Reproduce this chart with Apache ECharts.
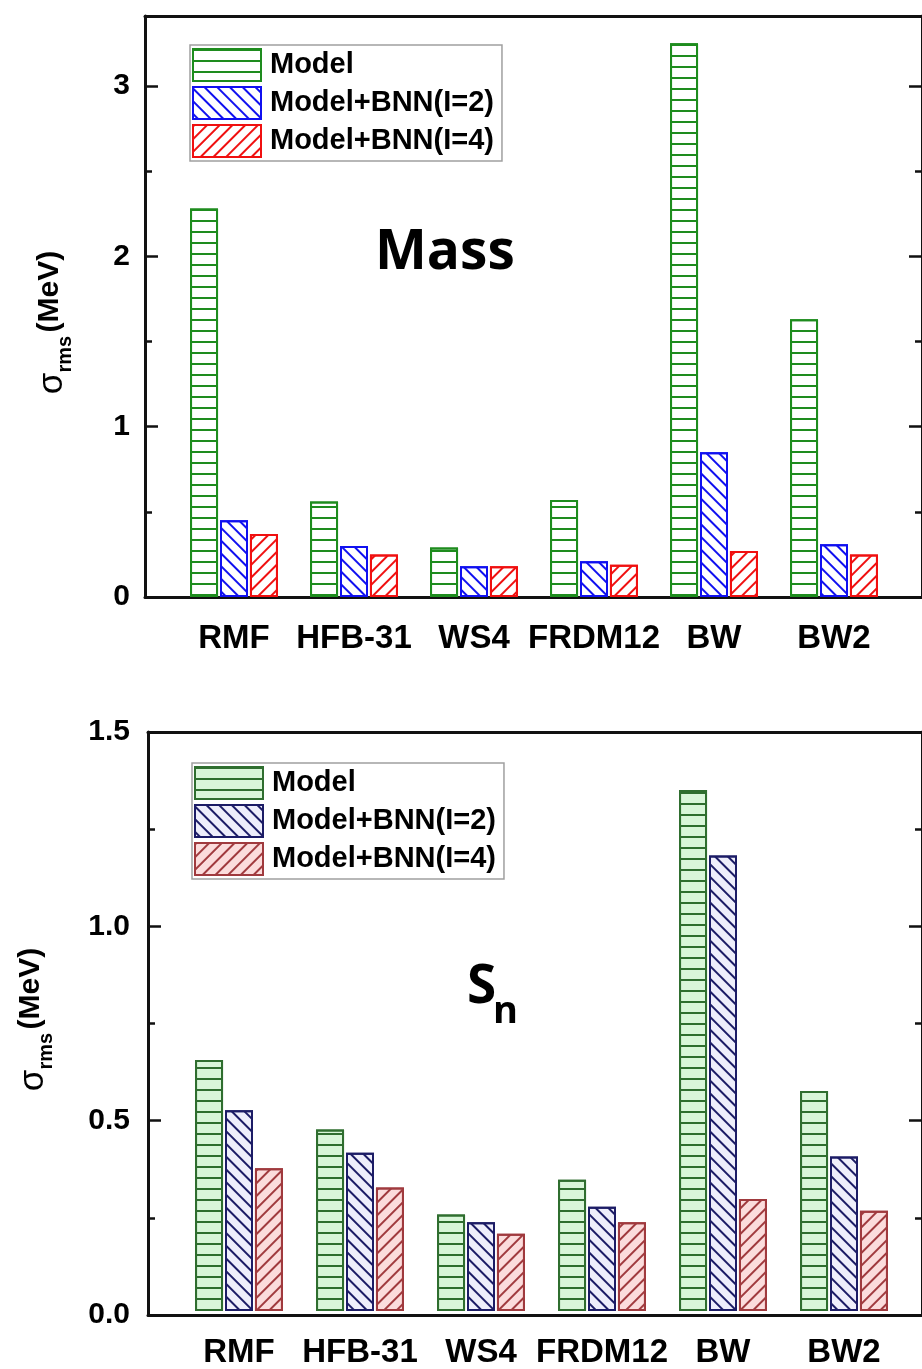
<!DOCTYPE html>
<html>
<head>
<meta charset="utf-8">
<script src="https://cdn.jsdelivr.net/npm/echarts@6/dist/echarts.min.js"></script>
<style>
html,body{margin:0;padding:0;background:#fff;}
#c{width:922px;height:1369px;}
</style>
</head>
<body>
<div id="c"></div>
<script>
// ---------- data ----------
const categories = ['RMF', 'HFB-31', 'WS4', 'FRDM12', 'BW', 'BW2'];
const seriesNames = ['Model', 'Model+BNN(I=2)', 'Model+BNN(I=4)'];
// Mass panel (MeV)
const massModel = [2.28, 0.56, 0.29, 0.57, 3.25, 1.63];
const massBNN2  = [0.45, 0.30, 0.18, 0.21, 0.85, 0.31];
const massBNN4  = [0.37, 0.25, 0.18, 0.19, 0.27, 0.25];
// Sn panel (MeV)
const snModel = [0.65, 0.47, 0.25, 0.34, 1.35, 0.57];
const snBNN2  = [0.52, 0.41, 0.23, 0.27, 1.18, 0.40];
const snBNN4  = [0.37, 0.32, 0.20, 0.23, 0.29, 0.26];
// axis ranges / ticks
const massY = {min: 0, max: 3.41, major: 1, minor: 0.5};
const snY   = {min: 0, max: 1.5, major: 0.5, minor: 0.25};

// ---------- styles ----------
const FONT = '"Liberation Sans", Arial, sans-serif';
const AX = '#111';
const topStyles = [
  {fill: '#ffffff', line: '#1e8c1e', rot: 0, dy: [2, 9]},
  {fill: '#ffffff', line: '#1010f0', rot: Math.PI / 4, dy: [2, 7]},
  {fill: '#ffffff', line: '#f01010', rot: -Math.PI / 4, dy: [2, 7]}
];
const botStyles = [
  {fill: '#d9f6d9', line: '#2f6e2f', rot: 0, dy: [2, 9]},
  {fill: '#eeeefb', line: '#1c1c66', rot: Math.PI / 4, dy: [2, 7]},
  {fill: '#fbdcdc', line: '#a03a3e', rot: -Math.PI / 4, dy: [2, 7]}
];

function itemStyle(s) {
  return {
    color: s.fill,
    borderColor: s.line,
    borderWidth: 2,
    decal: {
      symbol: 'rect', symbolSize: 1,
      dashArrayX: [1, 0], dashArrayY: s.dy,
      rotation: s.rot, color: s.line
    }
  };
}

function frameAxesY(gridIndex, rng, nameGap, namePad, labelMargin) {
  const fmt = v => {
    const k = Math.round(v / rng.major);
    if (Math.abs(v - k * rng.major) > 1e-6) return '';
    return rng.major < 1 ? v.toFixed(1) : String(Math.round(v));
  };
  const base = {
    gridIndex, type: 'value', min: rng.min, max: rng.max,
    splitLine: {show: false},
    axisLine: {show: true, onZero: false, lineStyle: {color: AX, width: 3}}
  };
  const left = Object.assign({}, base, {
    position: 'left', interval: rng.major,
    axisTick: {show: true, inside: true, length: 13, lineStyle: {color: AX, width: 2.5}},
    axisLabel: {show: true, formatter: fmt, margin: labelMargin, color: '#000',
      fontSize: 30, fontWeight: 'bold', fontFamily: FONT,
      showMaxLabel: true, hideOverlap: false},
    name: '{s|σ}{sub|rms} {m|(MeV)}',
    nameLocation: 'middle', nameGap: nameGap, nameRotate: 90,
    nameTextStyle: {
      color: '#000',
      padding: namePad,
      rich: {
        s: {fontSize: 35, fontFamily: FONT, color: '#000', lineHeight: 40, verticalAlign: 'top'},
        sub: {fontSize: 20, fontFamily: FONT, fontWeight: 'bold', color: '#000', verticalAlign: 'bottom'},
        m: {fontSize: 30, fontFamily: FONT, fontWeight: 'bold', color: '#000', lineHeight: 40, verticalAlign: 'top'}
      }
    }
  });
  const leftMinor = Object.assign({}, base, {
    position: 'left', interval: rng.minor,
    axisLine: {show: false, onZero: false},
    axisTick: {show: true, inside: true, length: 7, lineStyle: {color: AX, width: 2.5}},
    axisLabel: {show: false}
  });
  const right = Object.assign({}, base, {
    position: 'right', interval: rng.major,
    axisTick: {show: true, inside: true, length: 13, lineStyle: {color: AX, width: 2.5}},
    axisLabel: {show: false}
  });
  const rightMinor = Object.assign({}, leftMinor, {position: 'right'});
  const data = {gridIndex: gridIndex + 1, type: 'value', min: rng.min, max: rng.max, show: false};
  return [left, leftMinor, right, rightMinor, data];
}

function frameAxesX(gridIndex) {
  const b = {
    gridIndex, type: 'value', min: 0, max: 1,
    axisLine: {show: true, onZero: false, lineStyle: {color: AX, width: 3}},
    axisTick: {show: false}, axisLabel: {show: false}, splitLine: {show: false}
  };
  return [Object.assign({}, b, {position: 'bottom'}), Object.assign({}, b, {position: 'top'})];
}

function catAxis(gridIndex, margin) {
  return {
    gridIndex, type: 'category', data: categories,
    axisLine: {show: false}, axisTick: {show: false}, splitLine: {show: false},
    axisLabel: {show: true, interval: 0, margin: margin, color: '#000',
      fontSize: 33, fontWeight: 'bold', fontFamily: FONT}
  };
}

const xAxis = [].concat(frameAxesX(0), [catAxis(1, 25)], frameAxesX(2), [catAxis(3, 25)]);
const yAxis = [].concat(frameAxesY(0, massY, 70, [0, 32, 0, 0], 15), frameAxesY(2, snY, 92, [0, 0, 0, 8], 18));

function bars(names, vals, styles, xi, yi) {
  return vals.map((v, i) => ({
    name: names[i], type: 'bar', xAxisIndex: xi, yAxisIndex: yi,
    data: v, barWidth: 28, barGap: '7%',
    itemStyle: itemStyle(styles[i])
  }));
}

const botNames = seriesNames.map(n => n + ' ');
const series = [].concat(
  bars(seriesNames, [massModel, massBNN2, massBNN4], topStyles, 2, 4),
  bars(botNames, [snModel, snBNN2, snBNN4], botStyles, 5, 9)
);

function legend(names, left, top) {
  return {
    data: names, orient: 'vertical', left, top,
    icon: 'rect', itemWidth: 68, itemHeight: 32, itemGap: 4,
    padding: [3, 8, 3, 2],
    borderColor: '#a0a0a0', borderWidth: 1.5,
    selectedMode: false,
    formatter: n => n.trim(),
    textStyle: {fontSize: 29, fontWeight: 'bold', fontFamily: FONT, color: '#000', padding: [0, 0, 0, 4]}
  };
}

const option = {
  animation: false,
  backgroundColor: '#ffffff',
  grid: [
    {left: 145, top: 16, width: 779, height: 581},
    {left: 174, top: 16, width: 720, height: 581},
    {left: 148, top: 732, width: 782, height: 583},
    {left: 178.5, top: 732, width: 726, height: 583}
  ],
  xAxis, yAxis, series,
  legend: [legend(seriesNames, 190, 45), legend(botNames, 192, 763)],
  graphic: [
    {type: 'text', x: 375, y: 253, style: {text: 'Mass', font: 'bold 55px "Open Sans", sans-serif', fill: '#000', verticalAlign: 'middle'}},
    {type: 'text', x: 467, y: 988, style: {text: 'S', font: 'bold 53px "Open Sans", sans-serif', fill: '#000', verticalAlign: 'middle'}},
    {type: 'text', x: 493, y: 1012, style: {text: 'n', font: 'bold 38px "Open Sans", sans-serif', fill: '#000', verticalAlign: 'middle'}}
  ]
};

const chart = echarts.init(document.getElementById('c'), null, {renderer: 'canvas', width: 922, height: 1369});
chart.setOption(option);
</script>
</body>
</html>
